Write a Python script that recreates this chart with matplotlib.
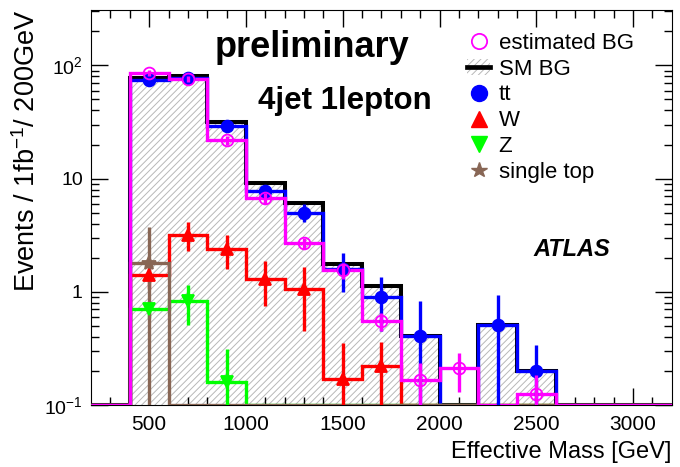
import numpy as np
import matplotlib
matplotlib.use("Agg")
import matplotlib.pyplot as plt
from matplotlib.lines import Line2D
from matplotlib.patches import Patch
from matplotlib.ticker import FixedLocator, LogLocator, NullFormatter

plt.rcParams['font.family'] = ['Liberation Sans', 'DejaVu Sans']
plt.rcParams['mathtext.fontset'] = 'custom'
plt.rcParams['mathtext.rm'] = 'Liberation Sans'
plt.rcParams['mathtext.it'] = 'Liberation Sans:italic'
plt.rcParams['mathtext.bf'] = 'Liberation Sans:bold'
plt.rcParams['hatch.linewidth'] = 0.7

# effective mass bins (GeV), 200 GeV wide
bin_edges = np.arange(200, 3201, 200)
bin_centers = [500, 700, 900, 1100, 1300, 1500, 1700, 1900, 2100, 2300, 2500]

# events / 1 fb^-1 / 200 GeV per process
tt = [74, 77, 29, 7.8, 5.0, 1.6, 0.9, 0.41, 0, 0.51, 0.2]
tt_err = [5, 5, 3, 1.0, 0.9, 0.6, 0.45, 0.41, 0, 0.43, 0.14]
w_jets = [1.4, 3.2, 2.4, 1.3, 1.05, 0.17, 0.22, 0, 0, 0, 0]
w_err = [0.35, 0.9, 0.8, 0.55, 0.6, 0.18, 0.14, 0, 0, 0, 0]
z_jets = [0.7, 0.83, 0.16, 0, 0, 0, 0, 0, 0, 0, 0]
z_err = [0.12, 0.32, 0.15, 0, 0, 0, 0, 0, 0, 0, 0]
single_top = [1.8, 0, 0, 0, 0, 0, 0, 0, 0, 0, 0]
single_top_err = [1.9, 0, 0, 0, 0, 0, 0, 0, 0, 0, 0]
est_bg = [86, 76, 21.7, 6.7, 2.7, 1.55, 0.55, 0.165, 0.21, 0, 0.125]
est_bg_err = [6, 5, 2, 0.7, 0.3, 0.25, 0.1, 0.07, 0.08, 0, 0.06]

ymin, ymax = 0.1, 310

sm_bg = np.array(tt) + np.array(w_jets) + np.array(z_jets) + np.array(single_top)

HATCH = '/////'
HATCH_COLOR = '#b8b8b8'
BROWN = '#886655'


def full_range(vals):
    # pad to the full 200-3200 range and park empty bins on the axis floor
    v = np.zeros(len(bin_edges) - 1)
    i0 = list(bin_edges).index(400)
    v[i0:i0 + len(vals)] = vals
    return np.where(v > 0, v, ymin)


fig = plt.figure(figsize=(6.8, 4.67), dpi=100)
ax = fig.add_axes([0.134, 0.133, 0.854, 0.846])
ax.set_yscale('log')

# hatched SM background
ax.stairs(full_range(sm_bg), bin_edges, baseline=ymin, fill=True, facecolor='none',
          edgecolor=HATCH_COLOR, hatch=HATCH, linewidth=0, zorder=1)

lw = 2.4
ax.stairs(full_range(sm_bg), bin_edges, baseline=None, color='black', lw=2.9, zorder=2)
ax.stairs(full_range(tt), bin_edges, baseline=None, color='#0000ff', lw=lw, zorder=3)
ax.stairs(full_range(w_jets), bin_edges, baseline=None, color='#ff0000', lw=lw, zorder=3)
ax.stairs(full_range(z_jets), bin_edges, baseline=None, color='#00ff00', lw=lw, zorder=3)
ax.stairs(full_range(single_top), bin_edges, baseline=None, color=BROWN, lw=lw, zorder=4)
ax.stairs(full_range(est_bg), bin_edges, baseline=None, color='#ff00ff', lw=lw, zorder=5)


def points(vals, errs, color, marker, ms, mfc, z):
    x = np.array(bin_centers, dtype=float)
    v = np.array(vals, dtype=float)
    e = np.array(errs, dtype=float)
    keep = v > 0
    lo = np.minimum(e, v * 0.999)
    ax.errorbar(x[keep], v[keep], yerr=[lo[keep], e[keep]], fmt=marker, color=color,
                ms=ms, mfc=mfc, mec=color, mew=1.3, elinewidth=lw, capsize=0, zorder=z)


points(tt, tt_err, '#0000ff', 'o', 8.5, '#0000ff', 6)
points(w_jets, w_err, '#ff0000', '^', 8.5, '#ff0000', 6)
points(z_jets, z_err, '#00ff00', 'v', 8.5, '#00ff00', 6)
points(single_top, single_top_err, BROWN, '*', 10, BROWN, 6)
points(est_bg, est_bg_err, '#ff00ff', 'o', 8.5, 'none', 7)

ax.set_xlim(200, 3200)
ax.set_ylim(ymin, ymax)

ax.xaxis.set_major_locator(FixedLocator([500, 1000, 1500, 2000, 2500, 3000]))
ax.xaxis.set_minor_locator(FixedLocator(np.arange(300, 3200, 100)))
ax.set_yticks([0.1, 1, 10, 100])
ax.set_yticklabels(['$10^{-1}$', '1', '10', '$10^{2}$'])
ax.yaxis.set_minor_locator(LogLocator(base=10, subs=np.arange(2, 10)))
ax.yaxis.set_minor_formatter(NullFormatter())
ax.tick_params(which='both', direction='in', top=True, right=True, width=1)
ax.tick_params(axis='x', labelsize=15)
ax.tick_params(axis='y', labelsize=14)
ax.tick_params(which='major', length=12)
ax.tick_params(axis='x', which='major', pad=7)
ax.tick_params(axis='y', which='major', pad=6)
ax.tick_params(which='minor', length=6)

ax.set_ylabel('Events / 1fb$^{-1}$/ 200GeV', fontsize=19.5, loc='top')
ax.yaxis.set_label_coords(-0.086, 1.0)
ax.set_xlabel('Effective Mass [GeV]', fontsize=17, loc='right', labelpad=5)

ax.text(0.381, 0.904, 'preliminary', transform=ax.transAxes, ha='center', va='center',
        fontsize=26, fontweight='bold')
ax.text(0.437, 0.77, '4jet 1lepton', transform=ax.transAxes, ha='center', va='center',
        fontsize=22.5, fontweight='bold')
ax.text(0.827, 0.394, 'ATLAS', transform=ax.transAxes, ha='center', va='center',
        fontsize=17, fontweight='bold', fontstyle='italic')

handles = [
    Line2D([], [], ls='none', marker='o', ms=11, mfc='none', mec='#ff00ff', mew=1.3),
    (Patch(facecolor='none', edgecolor=HATCH_COLOR, hatch=HATCH, linewidth=0),
     Line2D([], [], color='black', lw=3.4)),
    Line2D([], [], ls='none', marker='o', ms=11.5, color='#0000ff'),
    Line2D([], [], ls='none', marker='^', ms=11.5, color='#ff0000'),
    Line2D([], [], ls='none', marker='v', ms=11.5, color='#00ff00'),
    Line2D([], [], ls='none', marker='*', ms=11.5, color=BROWN),
]
labels = ['estimated BG', 'SM BG', 'tt', 'W', 'Z', 'single top']
ax.legend(handles, labels, loc='upper left', bbox_to_anchor=(0.648, 0.942), frameon=False,
          fontsize=16, labelspacing=0.22, handlelength=1.0, handletextpad=0.4,
          borderaxespad=0, borderpad=0)

fig.savefig('out.png', dpi=100)
